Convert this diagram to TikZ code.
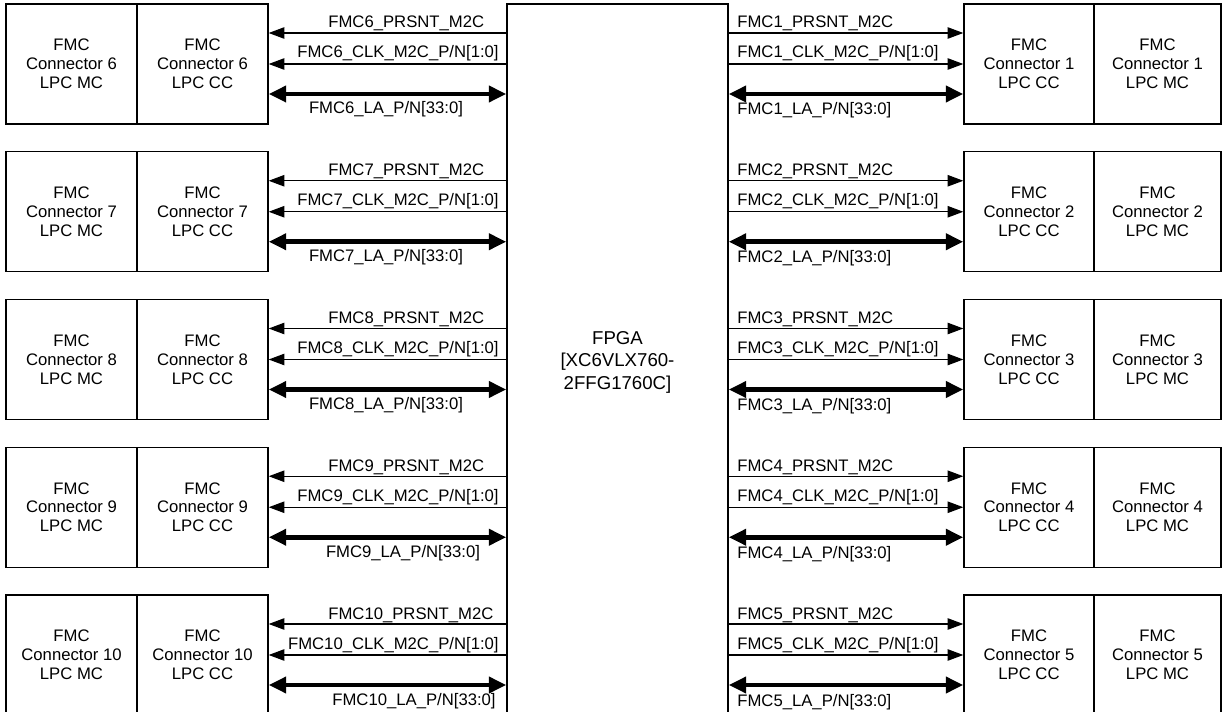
\documentclass[tikz,border=0pt]{standalone}
\usepackage{fontspec}
\setmainfont{Liberation Sans}
\usetikzlibrary{arrows.meta}

\begin{document}
\begin{tikzpicture}[x=0.02cm, y=-0.02cm, font=\fontsize{9.5}{10.8}\selectfont,
  box/.style={draw, line width=0.75pt, minimum width=2.62cm, minimum height=2.4cm,
              align=center, inner sep=0pt},
  sig/.style={line width=0.8pt, -{Triangle[length=9pt, width=6.5pt]}},
  bus/.style={line width=2.6pt, {Triangle[length=10pt, width=9pt]}-{Triangle[length=10pt, width=9pt]}},
  lbl/.style={inner sep=0pt}]
  \useasboundingbox (0,0) rectangle (1227,712);
  \clip (0,0) rectangle (1227,712);
  % FPGA in the middle, runs past the bottom edge
  \node[box, minimum width=4.42cm, minimum height=14.32cm,
        font=\fontsize{10.6}{12.8}\selectfont] (fpga) at (617.5,362)
        {FPGA\\{[}XC6VLX760-\\2FFG1760C]};
  \foreach \n/\m/\k/\lax in {6/1/0/386, 7/2/1/386, 8/3/2/386, 9/4/3/403, 10/5/4/414} {
    \pgfmathsetmacro{\y}{4+\k*147.75}
    % left pair
    \node[box] (mcL\n) at (71.5,\y+60)  {FMC\\Connector \n\\LPC MC};
    \node[box] (ccL\n) at (202.5,\y+60) {FMC\\Connector \n\\LPC CC};
    \draw[sig] (fpga.west |- 0,\y+29) -- (ccL\n.east |- 0,\y+29);
    \draw[sig] (fpga.west |- 0,\y+60) -- (ccL\n.east |- 0,\y+60);
    \draw[bus] (fpga.west |- 0,\y+90) -- (ccL\n.east |- 0,\y+90);
    \node[lbl, anchor=base west] (pL\n) at (328,\y+24)   {FMC\n\_PRSNT\_M2C};
    \node[lbl, anchor=base east] (cL\n) at (499,\y+54)   {FMC\n\_CLK\_M2C\_P/N[1:0]};
    \node[lbl, anchor=base]      (aL\n) at (\lax,\y+110) {FMC\n\_LA\_P/N[33:0]};
    % right pair
    \node[box, minimum width=2.6cm]  (ccR\m) at (1029,\y+60)  {FMC\\Connector \m\\LPC CC};
    \node[box, minimum width=2.54cm] (mcR\m) at (1157.5,\y+60) {FMC\\Connector \m\\LPC MC};
    \draw[sig] (fpga.east |- 0,\y+29) -- (ccR\m.west |- 0,\y+29);
    \draw[sig] (fpga.east |- 0,\y+60) -- (ccR\m.west |- 0,\y+60);
    \draw[bus] (fpga.east |- 0,\y+90) -- (ccR\m.west |- 0,\y+90);
    \node[lbl, anchor=base west] (pR\m) at (737,\y+24)  {FMC\m\_PRSNT\_M2C};
    \node[lbl, anchor=base west] (cR\m) at (737,\y+54)  {FMC\m\_CLK\_M2C\_P/N[1:0]};
    \node[lbl, anchor=base west] (aR\m) at (737,\y+111) {FMC\m\_LA\_P/N[33:0]};
  }
\end{tikzpicture}
\end{document}
